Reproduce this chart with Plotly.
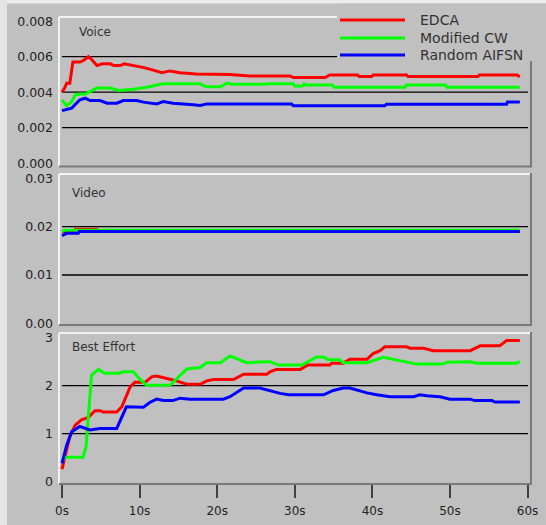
import plotly.graph_objects as go

# ---- data: time (s) and delay values per access category ----
voice_edca_t = [0, 0.3, 0.6, 1.0, 1.4, 2.3, 2.8, 3.4, 3.7, 4.5, 5.2, 6.2, 6.7, 7.5, 8.0, 9.4, 10.4, 11.3,
                12.9, 13.9, 15.2, 17.3, 21.6, 24.2, 29.4, 29.8, 33.9, 34.5, 38.1, 38.3, 39.9, 40.1, 44.4,
                44.6, 53.6, 53.8, 58.6, 59.0]
voice_edca_v = [0.0040, 0.0042, 0.0045, 0.0045, 0.0057, 0.0057, 0.0058, 0.0060, 0.0059, 0.0055, 0.0056,
                0.0056, 0.0055, 0.0055, 0.0056, 0.0055, 0.0054, 0.0053, 0.0051, 0.0052, 0.0051, 0.00503,
                0.00500, 0.00492, 0.00492, 0.00483, 0.00483, 0.00497, 0.00497, 0.00488, 0.00488, 0.00497,
                0.00497, 0.00488, 0.00488, 0.00497, 0.00497, 0.00488]

voice_mcw_t = [0, 0.6, 1.25, 1.7, 2.3, 3.0, 3.6, 4.5, 6.2, 7.3, 9.2, 10.9, 13.0, 17.8, 18.6, 20.4, 21.2,
               22.1, 25.9, 26.8, 29.8, 30.0, 31.0, 31.2, 31.4, 34.8, 35.1, 44.2, 44.4, 49.4, 49.6, 59.0]
voice_mcw_v = [0.00357, 0.00323, 0.00347, 0.00385, 0.0039, 0.0039, 0.00403, 0.00423, 0.00423, 0.0041,
               0.00417, 0.00428, 0.00447, 0.00447, 0.0043, 0.0043, 0.0045, 0.00445, 0.00445, 0.00447,
               0.00447, 0.00435, 0.00435, 0.00447, 0.0044, 0.0044, 0.00428, 0.00428, 0.0044, 0.0044,
               0.00428, 0.00428]

voice_ra_t = [0, 1.25, 2.3, 3.0, 3.6, 4.9, 5.8, 7.05, 7.9, 9.6, 10.5, 12.2, 13.05, 14.3, 16.9, 17.8,
              18.65, 29.6, 29.8, 41.6, 41.8, 57.3, 57.4, 59.0]
voice_ra_v = [0.00296, 0.0031, 0.00357, 0.00366, 0.00353, 0.00353, 0.00338, 0.00338, 0.00353, 0.00353,
              0.00344, 0.00334, 0.00347, 0.00338, 0.00329, 0.00325, 0.00334, 0.00334, 0.00323, 0.00323,
              0.00332, 0.00332, 0.00344, 0.00344]

video_edca_t = [0, 1.6, 1.7, 4.5, 4.6, 59.0]
video_edca_v = [0.0190, 0.0190, 0.01946, 0.01946, 0.0190, 0.0190]

video_mcw_t = [0, 0.3, 59.0]
video_mcw_v = [0.0190, 0.01925, 0.01925]

video_ra_t = [0, 0.6, 2.1, 2.2, 59.0]
video_ra_v = [0.01814, 0.01863, 0.01863, 0.0190, 0.0190]

be_edca_t = [0, 0.4, 1.0, 1.7, 2.5, 3.4, 4.25, 4.9, 5.3, 7.05, 7.7, 8.8, 9.4, 10.7, 11.6, 12.2, 13.05,
             14.3, 16.1, 17.8, 18.65, 19.5, 22.1, 23.4, 26.4, 26.8, 27.6, 30.7, 31.7, 34.5, 34.75, 36.25,
             37.1, 39.3, 40.1, 41.0, 41.6, 44.4, 44.85, 46.6, 47.85, 52.6, 53.9, 56.4, 57.3, 59.0]
be_edca_v = [0.26, 0.56, 0.94, 1.18, 1.29, 1.34, 1.48, 1.48, 1.45, 1.45, 1.56, 1.98, 2.07, 2.07, 2.19,
             2.2, 2.17, 2.12, 2.03, 2.03, 2.1, 2.13, 2.13, 2.24, 2.24, 2.29, 2.34, 2.34, 2.43, 2.43, 2.47,
             2.47, 2.55, 2.55, 2.67, 2.73, 2.81, 2.81, 2.78, 2.78, 2.73, 2.73, 2.83, 2.83, 2.94, 2.94]

be_mcw_t = [0, 0.4, 2.7, 3.1, 3.8, 4.7, 5.5, 7.3, 7.9, 9.2, 10.05, 10.9, 13.9, 16.1, 17.8, 18.65, 20.4,
            21.65, 22.9, 23.8, 26.4, 26.8, 27.9, 30.9, 32.8, 33.7, 34.3, 35.8, 36.25, 39.3, 41.4, 43.1,
            44.85, 45.7, 49.1, 49.6, 52.6, 53.4, 58.6, 59.0]
be_mcw_v = [0.42, 0.51, 0.51, 0.73, 2.22, 2.34, 2.26, 2.26, 2.29, 2.29, 2.13, 2.01, 2.01, 2.35, 2.38,
            2.48, 2.48, 2.62, 2.54, 2.48, 2.5, 2.5, 2.43, 2.43, 2.6, 2.6, 2.54, 2.54, 2.48, 2.48, 2.59,
            2.54, 2.48, 2.45, 2.45, 2.49, 2.5, 2.47, 2.47, 2.5]

be_ra_t = [0, 0.6, 1.25, 2.3, 3.6, 4.9, 7.05, 7.7, 8.3, 10.5, 11.3, 12.2, 13.05, 14.3, 15.2, 16.5, 20.8,
           21.65, 23.4, 25.5, 26.4, 26.8, 28.1, 29.2, 33.7, 34.96, 36.25, 37.1, 39.3, 40.55, 42.3, 45.3,
           46.1, 47.0, 48.7, 50.0, 52.6, 53.2, 55.4, 55.8, 59.0]
be_ra_v = [0.38, 0.76, 1.04, 1.15, 1.08, 1.11, 1.11, 1.35, 1.56, 1.55, 1.65, 1.72, 1.69, 1.69, 1.74,
           1.72, 1.72, 1.77, 1.95, 1.95, 1.91, 1.9, 1.84, 1.81, 1.81, 1.9, 1.95, 1.95, 1.85, 1.81, 1.77,
           1.77, 1.81, 1.79, 1.77, 1.72, 1.72, 1.69, 1.69, 1.66, 1.66]

series_names = ["EDCA", "Modified CW", "Random AIFSN"]
series_colors = ["#ff0000", "#00ff00", "#0000ff"]
panel_titles = ["Voice", "Video", "Best Effort"]

x_tick_vals = [0, 10, 20, 30, 40, 50, 60]
x_tick_text = ["0s", "10s", "20s", "30s", "40s", "50s", "60s"]
voice_ticks = [0.000, 0.002, 0.004, 0.006, 0.008]
video_ticks = [0.00, 0.01, 0.02, 0.03]
be_ticks = [0, 1, 2, 3]
voice_grid = [0.002, 0.004, 0.006]
video_grid = [0.01, 0.02]
be_grid = [1, 2]

# ---- page geometry (pixels) ----
W, H = 546, 525
BG = "#c0c0c0"
FONT = "DejaVu Sans"


def fx(px):
    return px / W


def fy(py):
    return 1 - py / H


left_px, right_px = 60, 531
panels_px = [(17, 166.5), (174, 325), (333, 484)]

fig = go.Figure()

panel_data = [
    [(voice_edca_t, voice_edca_v), (voice_mcw_t, voice_mcw_v), (voice_ra_t, voice_ra_v)],
    [(video_edca_t, video_edca_v), (video_mcw_t, video_mcw_v), (video_ra_t, video_ra_v)],
    [(be_edca_t, be_edca_v), (be_mcw_t, be_mcw_v), (be_ra_t, be_ra_v)],
]
axis_ids = [("x", "y"), ("x2", "y2"), ("x3", "y3")]

for (xa, ya), series in zip(axis_ids, panel_data):
    for name, color, (t, v) in zip(series_names, series_colors, series):
        fig.add_trace(go.Scatter(x=t, y=v, mode="lines", name=name, xaxis=xa, yaxis=ya,
                                 line=dict(color=color, width=3), showlegend=False,
                                 hoverinfo="skip"))

x_range = [-0.26, 60.44]
y_ranges = [[-0.00019, 0.00824], [-0.00035, 0.0309], [-0.048, 3.098]]
y_ticks = [voice_ticks, video_ticks, be_ticks]
y_formats = [".3f", ".2f", "d"]
grids = [voice_grid, video_grid, be_grid]

layout = dict(
    width=W, height=H,
    margin=dict(l=0, r=0, t=0, b=0, autoexpand=False),
    paper_bgcolor=BG, plot_bgcolor=BG,
    showlegend=False,
    font=dict(family=FONT, color="#222222"),
)

for i, ((xa, ya), (top, bot)) in enumerate(zip(axis_ids, panels_px)):
    xkey = "xaxis" if i == 0 else f"xaxis{i + 1}"
    ykey = "yaxis" if i == 0 else f"yaxis{i + 1}"
    is_bottom = i == 2
    layout[xkey] = dict(
        domain=[fx(left_px), fx(right_px)], range=x_range, anchor=ya,
        showgrid=False, zeroline=False, showline=False, automargin=False,
        showticklabels=is_bottom,
        tickvals=x_tick_vals, ticktext=x_tick_text,
        ticks="outside" if is_bottom else "", ticklen=13, tickwidth=2, tickcolor="#404040",
        ticklabelstandoff=3,
        tickfont=dict(family=FONT, size=12, color="#222222"),
        fixedrange=True,
    )
    layout[ykey] = dict(
        domain=[fy(bot), fy(top)], range=y_ranges[i], anchor=xa,
        showgrid=False, zeroline=False, showline=False, automargin=False,
        tickvals=y_ticks[i], tickformat=y_formats[i], ticks="",
        ticklabelstandoff=6,
        tickfont=dict(family=FONT, size=12.5, color="#222222"),
        fixedrange=True,
    )

fig.update_layout(**layout)

shapes = []
# horizontal grid lines inside each panel
for (xa, ya), gvals in zip(axis_ids, grids):
    for g in gvals:
        shapes.append(dict(type="line", xref=f"{xa} domain", yref=ya,
                           x0=2 / 471, x1=468 / 471, y0=g, y1=g,
                           line=dict(color="#000000", width=1.3), layer="below"))

# sunken frame around each panel
for top, bot in panels_px:
    shapes.append(dict(type="line", xref="paper", yref="paper", x0=fx(left_px - 1), x1=fx(right_px),
                       y0=fy(top), y1=fy(top), line=dict(color="#f2f2f2", width=2)))
    shapes.append(dict(type="line", xref="paper", yref="paper", x0=fx(left_px - 1), x1=fx(left_px - 1),
                       y0=fy(top), y1=fy(bot), line=dict(color="#f2f2f2", width=2)))
    shapes.append(dict(type="line", xref="paper", yref="paper", x0=fx(left_px - 1), x1=fx(right_px),
                       y0=fy(bot), y1=fy(bot), line=dict(color="#7a7a7a", width=2)))
    shapes.append(dict(type="line", xref="paper", yref="paper", x0=fx(right_px), x1=fx(right_px),
                       y0=fy(top - 1), y1=fy(bot + 1), line=dict(color="#7a7a7a", width=2)))

# light strips along the top and left edges of the page
shapes.append(dict(type="rect", xref="paper", yref="paper", x0=0, x1=1, y0=fy(3.5), y1=1,
                   fillcolor="#ececec", line=dict(width=0)))
shapes.append(dict(type="rect", xref="paper", yref="paper", x0=0, x1=fx(7), y0=0, y1=1,
                   fillcolor="#e4e4e4", line=dict(width=0)))

# legend box in the top-right corner
shapes.append(dict(type="rect", xref="paper", yref="paper", x0=fx(337), x1=1, y0=fy(61), y1=fy(3.5),
                   fillcolor=BG, line=dict(width=0), layer="above"))
legend_rows_px = [20, 38, 55]
annotations = []
for name, color, ry in zip(series_names, series_colors, legend_rows_px):
    shapes.append(dict(type="line", xref="paper", yref="paper", x0=fx(340), x1=fx(405),
                       y0=fy(ry), y1=fy(ry), line=dict(color=color, width=3), layer="above"))
    annotations.append(dict(text=name, xref="paper", yref="paper", x=fx(418), y=fy(ry),
                            xanchor="left", yanchor="middle", showarrow=False,
                            font=dict(family=FONT, size=14, color="#333333")))

# panel captions
caption_pos = [(77, 32), (70, 193), (70, 347)]
for title, (cx, cy) in zip(panel_titles, caption_pos):
    annotations.append(dict(text=title, xref="paper", yref="paper", x=fx(cx), y=fy(cy),
                            xanchor="left", yanchor="middle", showarrow=False,
                            font=dict(family=FONT, size=12, color="#333333")))

fig.update_layout(shapes=shapes, annotations=annotations)
fig.write_html("out.html")
